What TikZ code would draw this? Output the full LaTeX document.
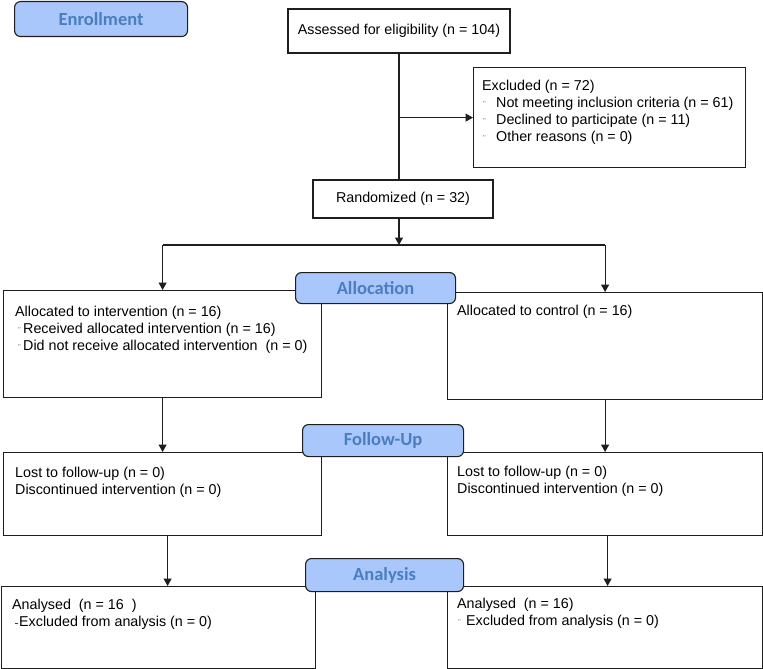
\documentclass[tikz,border=0pt]{standalone}
\usepackage{fontspec}
\setmainfont{Liberation Sans}
\newfontfamily\hdrfont{Carlito}
\usetikzlibrary{arrows.meta,calc}
\definecolor{hdrfill}{RGB}{169,199,250}
\definecolor{hdrtext}{RGB}{74,126,192}
\definecolor{linecol}{RGB}{30,30,30}
\newcommand\bul{{\fontsize{8}{8}\selectfont ¨}}
\newcommand\dashbul{\textcolor{darkgray}{\rule[3pt]{3pt}{0.8pt}}}
\begin{document}
\begin{tikzpicture}[x=1pt,y=-1pt,
  box/.style={draw=linecol, line width=1.2pt, inner sep=0pt, anchor=north west, fill=white, font=\fontsize{14.3}{17}\selectfont},
  hdr/.style={draw=linecol, line width=1.1pt, rounded corners=6pt, fill=hdrfill, text=hdrtext,
    font=\hdrfont\bfseries\fontsize{18.5}{20}\selectfont, inner sep=0pt, anchor=north west},
  txt/.style={anchor=north west, inner sep=0pt, align=left, font=\fontsize{14.3}{17}\selectfont},
  arr/.style={draw=linecol, line width=1.2pt, -{Triangle[width=8pt,length=7.5pt]}},
  ln/.style={draw=linecol, line width=1.2pt}]
\useasboundingbox (0,0) rectangle (763,669);

% boxes
\node[box, anchor=center, minimum width=222pt, minimum height=44pt] (assess) at (399,31) {Assessed for eligibility (n = 104)};
\node[box, minimum width=272pt, minimum height=100pt] (excl) at (473,67) {};
\node[box, anchor=center, minimum width=180pt, minimum height=38pt] (rand) at (403,199) {Randomized (n = 32)};
\node[box, minimum width=318pt, minimum height=107pt] (interv) at (3,290) {};
\node[box, minimum width=315pt, minimum height=107pt] (control) at (447,292) {};
\node[box, minimum width=318pt, minimum height=83pt] (followL) at (3,452) {};
\node[box, minimum width=315pt, minimum height=83pt] (followR) at (447,452) {};
\node[box, minimum width=314pt, minimum height=82pt] (anaL) at (1,586) {};
\node[box, minimum width=315pt, minimum height=82pt] (anaR) at (447,586) {};

% texts
\node[txt] (exclT) at (482,80) {Excluded (n = 72)\\
\makebox[14pt][l]{\hspace*{1pt}\bul}Not meeting inclusion criteria (n = 61)\\
\makebox[14pt][l]{\hspace*{1pt}\bul}Declined to participate (n = 11)\\
\makebox[14pt][l]{\hspace*{1pt}\bul}Other reasons (n = 0)};
\node[txt] (intervT) at (15,306) {Allocated to intervention (n = 16)\\
\makebox[8pt][l]{\hspace*{3pt}\bul}Received allocated intervention (n = 16)\\
\makebox[8pt][l]{\hspace*{3pt}\bul}Did not receive allocated intervention~ (n = 0)};
\node[txt] (controlT) at (457,305) {Allocated to control (n = 16)};
\node[txt] (followLT) at (15,467) {Lost to follow-up (n = 0)\\Discontinued intervention (n = 0)};
\node[txt] (followRT) at (457,466) {Lost to follow-up (n = 0)\\Discontinued intervention (n = 0)};
\node[txt] (anaLT) at (12,599) {Analysed~ (n = 16~ )\\
\makebox[7pt][l]{\hspace*{3pt}\dashbul}Excluded from analysis (n = 0)};
\node[txt] (anaRT) at (457,598) {Analysed~ (n = 16)\\
\makebox[9pt][l]{\hspace*{1pt}\bul}Excluded from analysis (n = 0)};

% connectors
\draw[ln] (assess.south) -- (assess.south |- rand.north);
\draw[arr] (assess.south |- excl.west) -- (excl.west);
\coordinate (split) at (399,245);
\draw[arr] (assess.south |- rand.south) -- (split);
\draw[ln] (interv.north |- split) -- (control.north |- split);
\draw[arr] (interv.north |- split) -- (interv.north);
\draw[arr] (control.north |- split) -- (control.north);
\draw[arr] (interv.south) -- (followL.north);
\draw[arr] (control.south) -- (followR.north);
\draw[arr] ([xshift=5pt]followL.south) -- ([xshift=5pt]followL.south |- anaL.north);
\draw[arr] ([xshift=2.5pt]followR.south) -- ([xshift=2.5pt]followR.south |- anaR.north);

% stage headers
\node[hdr, minimum width=173pt, minimum height=35pt] (enroll) at (14,1) {Enrollment};
\node[hdr, minimum width=160pt, minimum height=31pt] (alloc) at (295,272) {Allocation};
\node[hdr, minimum width=161pt, minimum height=32pt] (follow) at (302,424) {Follow-Up};
\node[hdr, minimum width=158pt, minimum height=33pt] (analysis) at (305,558) {Analysis};
\end{tikzpicture}
\end{document}
